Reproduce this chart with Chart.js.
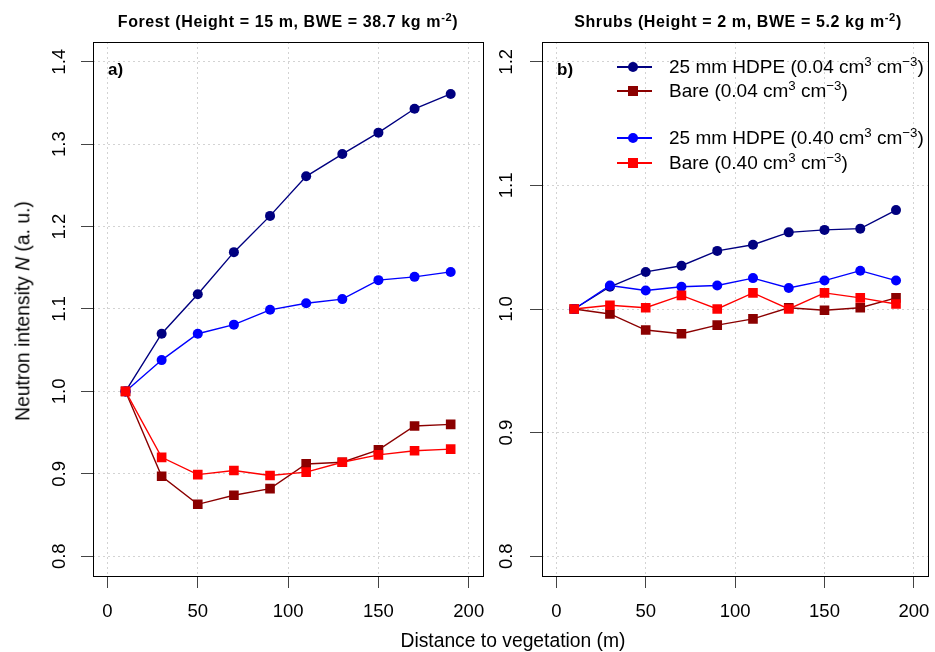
<!DOCTYPE html>
<html>
<head>
<meta charset="utf-8">
<script src="https://cdn.jsdelivr.net/npm/chart.js@4.4.0/dist/chart.umd.min.js"></script>
<style>
  body { margin: 0; background: #fff; }
  #wrap { position: relative; width: 935px; height: 652px; font-family: "Liberation Sans", Arial, sans-serif; color: #000; }
  canvas { position: absolute; top: 0; }
  .t { position: absolute; white-space: nowrap; line-height: 1; }
  .t sup { font-size: 0.7em; vertical-align: 0.5em; line-height: 0; }
  .title { font-weight: bold; font-size: 16px; letter-spacing: 0.6px; transform: translateX(-50%); }
  .panel { font-weight: bold; font-size: 17px; }
  .row { position: absolute; left: 617px; height: 24px; width: 318px; }
  .row .line { position: absolute; left: 0; top: 11px; width: 35px; height: 1.5px; }
  .row .mk { position: absolute; left: 11px; top: 7px; width: 10px; height: 10px; }
  .row .txt { position: absolute; left: 52px; top: 2px; font-size: 19px; line-height: 1; white-space: nowrap; }
  .row .txt sup { font-size: 0.7em; vertical-align: 0.5em; line-height: 0; }
</style>
</head>
<body>
<div id="wrap">
  <canvas id="forest" width="490" height="652" style="left:0"></canvas>
  <canvas id="shrubs" width="445" height="652" style="left:490px"></canvas>

  <div class="t title" style="left:288px; top:14px">Forest (Height = 15 m, BWE = 38.7 kg m<sup>-2</sup>)</div>
  <div class="t title" style="left:738px; top:14px">Shrubs (Height = 2 m, BWE = 5.2 kg m<sup>-2</sup>)</div>
  <div class="t panel" style="left:108px; top:61px">a)</div>
  <div class="t panel" style="left:557px; top:61px">b)</div>
  <div class="t" style="left:513px; top:641px; font-size:19.3px; transform: translate(-50%, -50%)">Distance to vegetation (m)</div>
  <div class="t" style="left:23px; top:311px; font-size:19.3px; transform: translate(-50%, -50%) rotate(-90deg)">Neutron intensity <i>N</i> (a. u.)</div>
  <div id="legend"></div>
</div>

<script>
// distance to vegetation (m)
const distance = [10, 30, 50, 70, 90, 110, 130, 150, 170, 190];

// Forest
const forestHdpeDry = [1.000, 1.070, 1.118, 1.169, 1.213, 1.261, 1.288, 1.314, 1.343, 1.361];
const forestBareDry = [1.000, 0.897, 0.863, 0.874, 0.882, 0.912, 0.914, 0.929, 0.958, 0.960];
const forestHdpeWet = [1.000, 1.038, 1.070, 1.081, 1.099, 1.107, 1.112, 1.135, 1.139, 1.145];
const forestBareWet = [1.000, 0.920, 0.899, 0.904, 0.898, 0.902, 0.914, 0.923, 0.928, 0.930];

// Shrubs
const shrubsHdpeDry = [1.000, 1.018, 1.030, 1.035, 1.047, 1.052, 1.062, 1.064, 1.065, 1.080];
const shrubsBareDry = [1.000, 0.996, 0.983, 0.980, 0.987, 0.992, 1.001, 0.999, 1.001, 1.009];
const shrubsHdpeWet = [1.000, 1.019, 1.015, 1.018, 1.019, 1.025, 1.017, 1.023, 1.031, 1.023];
const shrubsBareWet = [1.000, 1.003, 1.001, 1.011, 1.000, 1.013, 1.000, 1.013, 1.009, 1.004];

// ticks
const xTicks = [0, 50, 100, 150, 200];
const forestYTicks = [0.8, 0.9, 1.0, 1.1, 1.2, 1.3, 1.4];
const shrubsYTicks = [0.8, 0.9, 1.0, 1.1, 1.2];

const seriesLabels = [
  '25 mm HDPE (0.04 cm<sup>3</sup> cm<sup>\u22123</sup>)',
  'Bare (0.04 cm<sup>3</sup> cm<sup>\u22123</sup>)',
  '25 mm HDPE (0.40 cm<sup>3</sup> cm<sup>\u22123</sup>)',
  'Bare (0.40 cm<sup>3</sup> cm<sup>\u22123</sup>)'
];
const seriesColors = ['#000080', '#8B0000', '#0000FF', '#FF0000'];
const seriesMarkers = ['circle', 'rect', 'circle', 'rect'];

const FONT = '"Liberation Sans", Arial, sans-serif';

function toPoints(ys) {
  return distance.map((x, i) => ({ x: x, y: ys[i] }));
}

function makeDatasets(series) {
  return series.map((ys, i) => ({
    label: seriesLabels[i].replace(/<[^>]+>/g, ''),
    data: toPoints(ys),
    borderColor: seriesColors[i],
    backgroundColor: seriesColors[i],
    borderWidth: 1.4,
    pointStyle: seriesMarkers[i],
    pointRadius: seriesMarkers[i] === 'rect' ? 6.8 : 5,
    pointBorderWidth: 0,
    pointBackgroundColor: seriesColors[i],
    tension: 0,
    order: 4 - i
  }));
}

// box round the plot + rotated y tick labels
const framePlugin = {
  id: 'frame',
  afterDraw(chart, args, opts) {
    const { ctx, chartArea: a } = chart;
    const y = chart.scales.y;
    ctx.save();
    ctx.strokeStyle = '#000';
    ctx.lineWidth = 1;
    ctx.strokeRect(Math.round(a.left) + 0.5, Math.round(a.top) + 0.5, Math.round(a.right - a.left), Math.round(a.bottom - a.top));
    ctx.fillStyle = '#000';
    ctx.font = '18.5px ' + FONT;
    ctx.textAlign = 'center';
    ctx.textBaseline = 'middle';
    y.ticks.forEach(t => {
      ctx.save();
      ctx.translate(opts.labelX, y.getPixelForValue(t.value));
      ctx.rotate(-Math.PI / 2);
      ctx.fillText(t.value.toFixed(1), 0, 0);
      ctx.restore();
    });
    ctx.restore();
  }
};

function makeChart(id, series, yTicks, yMin, yMax, yWidth, padRight, labelX) {
  return new Chart(document.getElementById(id), {
    type: 'line',
    data: { datasets: makeDatasets(series) },
    plugins: [framePlugin],
    options: {
      responsive: false,
      animation: false,
      events: [],
      layout: { padding: { left: 0, right: padRight, top: 42, bottom: 0 } },
      plugins: {
        legend: { display: false },
        tooltip: { enabled: false },
        frame: { labelX: labelX }
      },
      scales: {
        x: {
          type: 'linear',
          min: -8,
          max: 208,
          afterBuildTicks: s => { s.ticks = xTicks.map(v => ({ value: v })); },
          afterFit: s => { s.height = 76; s.paddingLeft = 0; s.paddingRight = 0; },
          grid: { color: '#d3d3d3', lineWidth: 1, tickColor: '#444', tickLength: 12, tickBorderDash: [] },
          border: { display: false, dash: [2, 3] },
          ticks: { color: '#000', font: { size: 18.5, family: FONT }, padding: 13, maxRotation: 0, autoSkip: false,
                   callback: v => String(v) }
        },
        y: {
          type: 'linear',
          min: yMin,
          max: yMax,
          afterBuildTicks: s => { s.ticks = yTicks.map(v => ({ value: v })); },
          afterFit: s => { s.width = yWidth; s.paddingTop = 0; s.paddingBottom = 0; },
          grid: { color: '#d3d3d3', lineWidth: 1, tickColor: '#444', tickLength: 12, tickBorderDash: [] },
          border: { display: false, dash: [2, 3] },
          ticks: { display: false }
        }
      }
    }
  });
}

makeChart('forest', [forestHdpeDry, forestBareDry, forestHdpeWet, forestBareWet],
  forestYTicks, 0.776, 1.424, 93, 6, 59.5);
makeChart('shrubs', [shrubsHdpeDry, shrubsBareDry, shrubsHdpeWet, shrubsBareWet],
  shrubsYTicks, 0.784, 1.216, 52, 2, 17);

// legend (right panel)
const rowTops = [55, 79, 126, 151];
const legend = document.getElementById('legend');
seriesLabels.forEach((lab, i) => {
  const row = document.createElement('div');
  row.className = 'row';
  row.style.top = rowTops[i] + 'px';
  const radius = seriesMarkers[i] === 'circle' ? '50%' : '0';
  row.innerHTML =
    '<div class="line" style="background:' + seriesColors[i] + '"></div>' +
    '<div class="mk" style="background:' + seriesColors[i] + ';border-radius:' + radius + '"></div>' +
    '<div class="txt">' + lab + '</div>';
  legend.appendChild(row);
});
</script>
</body>
</html>
